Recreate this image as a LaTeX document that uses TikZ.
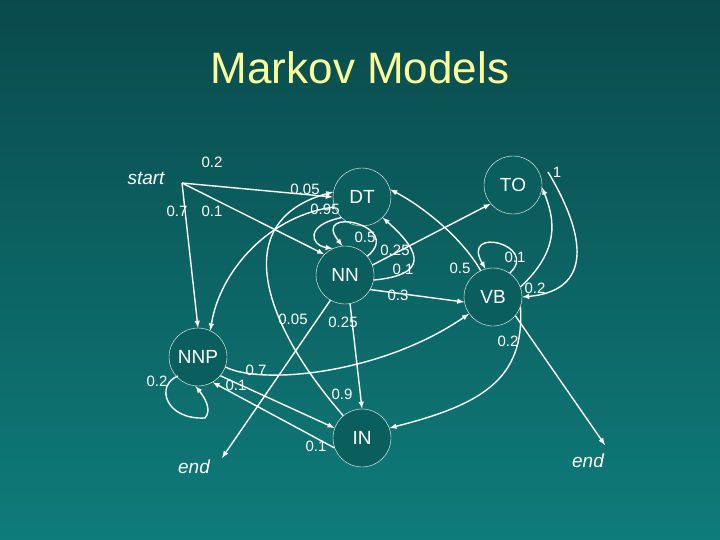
\documentclass[tikz,border=0pt]{standalone}
\usepackage{fontspec}
\setmainfont{Liberation Sans}
\begin{document}
\begin{tikzpicture}[x=1pt,y=-1pt,
  st/.style={circle,draw=white,line width=0.4pt,fill=nodecol,minimum size=58pt,inner sep=0pt,text=white,font=\fontsize{19}{19}\selectfont},
  lab/.style={text=white,font=\fontsize{15}{15}\selectfont,inner sep=1pt},
  it/.style={text=white,font=\fontsize{19}{19}\selectfont\itshape,inner sep=1pt},
  ar/.style={draw=white,line width=1.4pt,-latex}]
\definecolor{topcol}{HTML}{0A4A4C}
\definecolor{botcol}{HTML}{0E7C7A}
\definecolor{nodecol}{HTML}{0B5E5E}
\definecolor{titlecol}{HTML}{FFFF99}
\shade[top color=topcol,bottom color=botcol] (0,0) rectangle (720,540);
\useasboundingbox (0,0) rectangle (720,540);
\node[text=titlecol,font=\fontsize{44}{44}\selectfont] (title) at (360,68) {Markov Models};
\node[st] (DT) at (362,197) {DT};
\node[st] (NN) at (345,275) {NN};
\node[st] (TO) at (513,185) {TO};
\node[st] (VB) at (493,297) {VB};
\node[st] (NNP) at (198,357) {NNP};
\node[st] (IN) at (362,438) {IN};
\node[it] (start) at (146,178) {start};
\coordinate (s0) at (182,183);
\node[it] (endL) at (194,467) {end};
\node[it] (endR) at (588,461) {end};
\coordinate (eL) at (222,458);
\coordinate (eR) at (605,445);
% start
\draw[ar] (s0) -- (DT.west);
\draw[ar] (s0) -- (NNP.north);
\draw[ar] (s0) -- (NN.north west);
\node[lab] (l1) at (212,162) {0.2};
\node[lab] (l2) at (177,211) {0.7};
\node[lab] (l3) at (212,211) {0.1};
% DT
\draw[ar] (DT.200) .. controls (270,215) and (220,270) .. (NNP.65);
\draw[ar] (IN.130) .. controls (260,320) and (230,220) .. (DT.170);
\draw[ar] (DT.225) .. controls (305,225) and (310,245) .. (NN.115);
\node[lab] (l4) at (305,189) {0.05};
\node[lab] (l5) at (325,209) {0.95};
\node[lab] (l6) at (342,394) {0.9};
% NN
\draw[ar] (NN.40) .. controls (405,225) and (310,205) .. (NN.95);
\node[lab] (l7) at (365,237) {0.5};
\draw[ar] (NN.20) -- (TO.220);
\node[lab] (l8) at (395,250) {0.25};
\draw[ar] (NN.-10) .. controls (425,275) and (425,255) .. (DT.-45);
\node[lab] (l9) at (403,269) {0.1};
\draw[ar] (NN.-30) -- (VB.190);
\node[lab] (l10) at (398,295) {0.3};
\draw[ar] (NN.-80) -- (IN.90);
\node[lab] (l11) at (343,322) {0.25};
\draw[ar] (NN.-120) -- (eL);
\node[lab] (l12) at (293,319) {0.05};
% VB
\draw[ar] (VB.115) .. controls (460,235) and (420,205) .. (DT.15);
\draw[ar] (VB.55) .. controls (540,245) and (460,225) .. (VB.105);
\node[lab] (l13) at (460,268) {0.5};
\node[lab] (l14) at (515,257) {0.1};
\draw[ar] (VB.20) .. controls (560,250) and (555,220) .. (TO.-5);
\node[lab] (l15) at (535,288) {0.2};
\draw[ar] (548,172) .. controls (580,225) and (600,290) .. (VB.0);
\node[lab] (l16) at (557,172) {1};
\draw[ar] (VB.-20) .. controls (525,380) and (480,405) .. (IN.20);
\node[lab] (l17) at (508,341) {0.2};
\draw[ar] (VB.-40) -- (eR);
% NNP
\draw[ar] (NNP.-20) .. controls (260,385) and (380,375) .. (VB.215);
\node[lab] (l18) at (256,370) {0.7};
\draw[ar] (NNP.-40) -- (IN.160);
\node[lab] (l19) at (236,385) {0.1};
\draw[ar] (IN.200) -- (NNP.-60);
\node[lab] (l20) at (316,446) {0.1};
\draw[ar] (178,376) .. controls (155,385) and (165,420) .. (205,418) .. controls (212,410) and (205,398) .. (NNP.-95);
\node[lab] (l21) at (157,381) {0.2};
\end{tikzpicture}
\end{document}
